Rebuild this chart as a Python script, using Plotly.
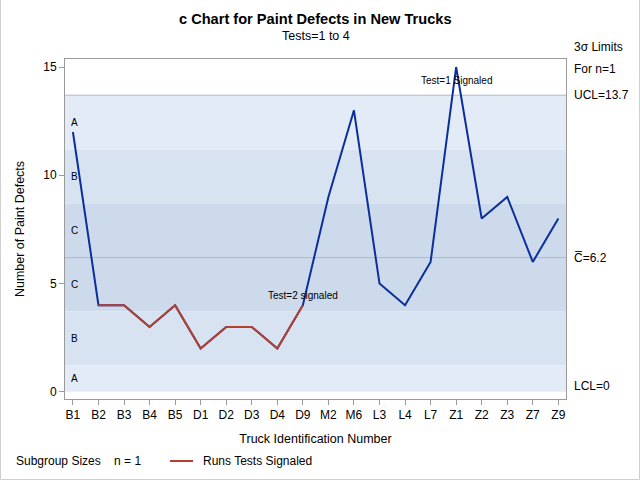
import plotly.graph_objects as go

categories = ["B1","B2","B3","B4","B5","D1","D2","D3","D4","D9",
              "M2","M6","L3","L4","L7","Z1","Z2","Z3","Z7","Z9"]
defects = [12,4,4,3,4,2,3,3,2,4,9,13,5,4,6,15,8,9,6,8]
signaled_idx = list(range(1, 10))  # B2..D9 runs test signaled
ucl = 13.7
center = 6.2
lcl = 0
sigma = center ** 0.5
zone_labels = ["A", "B", "C", "C", "B", "A"]

FONT = "Liberation Sans, Arial, sans-serif"
BLUE = "#0B2F9A"
RED = "#B5402F"
GRAY = "#9A9A9A"

x = list(range(len(categories)))
fig = go.Figure()

fig.add_trace(go.Scatter(x=x, y=defects, mode="lines",
                         line=dict(color=BLUE, width=2), showlegend=False, hoverinfo="skip"))
fig.add_trace(go.Scatter(x=[x[i] for i in signaled_idx], y=[defects[i] for i in signaled_idx],
                         mode="lines", line=dict(color=RED, width=2), showlegend=False, hoverinfo="skip"))

# zone bands
b1 = center + sigma; b2 = center + 2 * sigma
d1 = center - sigma; d2 = max(center - 2 * sigma, lcl)
bands = [(b2, ucl, "#E3EBF6"), (b1, b2, "#D8E3F1"), (center, b1, "#CCDAEC"),
         (d1, center, "#CCDAEC"), (d2, d1, "#D8E3F1"), (lcl, d2, "#E3EBF6")]
shapes = []
for y0, y1, c in bands:
    shapes.append(dict(type="rect", xref="paper", yref="y", x0=0, x1=1, y0=y0, y1=y1,
                       fillcolor=c, line=dict(width=0), layer="below"))
for yv in (ucl, center):
    shapes.append(dict(type="line", xref="paper", yref="y", x0=0, x1=1, y0=yv, y1=yv,
                       line=dict(color="#AEB8C8", width=1), layer="below"))
# outer border
W, H = 501, 340
shapes.append(dict(type="rect", xref="paper", yref="paper",
                   x0=-64.5 / W, x1=(639.5 - 65) / W, y0=-80.5 / H, y1=(479.5 - 59) / H,
                   line=dict(color="#CFCFCF", width=1), fillcolor="rgba(0,0,0,0)"))
# legend line
shapes.append(dict(type="line", xref="paper", yref="paper",
                   x0=(170 - 65) / W, x1=(193 - 65) / W, y0=(399 - 461) / H, y1=(399 - 461) / H,
                   line=dict(color=RED, width=2)))
fig.update_layout(shapes=shapes)

ann = []
# zone letters
mids = [(b2 + ucl) / 2, (b1 + b2) / 2, (center + b1) / 2, (d1 + center) / 2, (d2 + d1) / 2, (lcl + d2) / 2]
for lab, m in zip(zone_labels, mids):
    ann.append(dict(xref="paper", yref="y", x=(69 - 65) / W, y=m, text=lab, showarrow=False,
                    xanchor="left", yanchor="middle", font=dict(size=10, color="black", family=FONT)))
# right labels
rx = (572 - 65) / W
ann.append(dict(xref="paper", yref="paper", x=rx, y=(399 - 47) / H, text="3σ Limits", showarrow=False,
                xanchor="left", yanchor="middle", font=dict(size=12, family=FONT, color="black")))
ann.append(dict(xref="paper", yref="paper", x=rx, y=(399 - 69) / H, text="For n=1", showarrow=False,
                xanchor="left", yanchor="middle", font=dict(size=12, family=FONT, color="black")))
ann.append(dict(xref="paper", yref="y", x=rx, y=ucl, text=f"UCL={ucl}", showarrow=False,
                xanchor="left", yanchor="middle", font=dict(size=12, family=FONT, color="black")))
ann.append(dict(xref="paper", yref="y", x=rx, y=center, text=f"C\u0305={center}", showarrow=False,
                xanchor="left", yanchor="middle", font=dict(size=12, family=FONT, color="black")))
ann.append(dict(xref="paper", yref="y", x=rx, y=lcl, text=f"LCL={lcl}", showarrow=False, yshift=6,
                xanchor="left", yanchor="middle", font=dict(size=12, family=FONT, color="black")))
# test annotations
ann.append(dict(xref="x", yref="y", x=15, y=15, text="Test=1 Signaled", showarrow=False, yshift=-13,
                xanchor="center", yanchor="middle", font=dict(size=10, family=FONT, color="black")))
ann.append(dict(xref="x", yref="y", x=9, y=4, text="Test=2 signaled", showarrow=False, yshift=10,
                xanchor="center", yanchor="middle", font=dict(size=10, family=FONT, color="black")))
# titles
ann.append(dict(xref="paper", yref="paper", x=0.5, y=(399 - 19) / H, text="<b>c Chart for Paint Defects in New Trucks</b>",
                showarrow=False, xanchor="center", yanchor="middle", font=dict(size=14.6, family=FONT, color="black")))
ann.append(dict(xref="paper", yref="paper", x=0.5, y=(399 - 36) / H, text="Tests=1 to 4",
                showarrow=False, xanchor="center", yanchor="middle", font=dict(size=12.5, family=FONT, color="black")))
# legend text
ann.append(dict(xref="paper", yref="paper", x=(14 - 65) / W, y=(399 - 461) / H, text="Subgroup Sizes    n = 1",
                showarrow=False, xanchor="left", yanchor="middle", font=dict(size=12, family=FONT, color="black")))
ann.append(dict(xref="paper", yref="paper", x=(201 - 65) / W, y=(399 - 461) / H, text="Runs Tests Signaled",
                showarrow=False, xanchor="left", yanchor="middle", font=dict(size=12, family=FONT, color="black")))
fig.update_layout(annotations=ann)

fig.update_layout(
    width=640, height=480,
    margin=dict(l=65, r=74, t=59, b=81),
    paper_bgcolor="white", plot_bgcolor="white",
    font=dict(family=FONT, size=12, color="black"),
    xaxis=dict(range=[-0.31, 19.3], tickvals=x, ticktext=categories, showgrid=False, zeroline=False,
               showline=True, linecolor=GRAY, mirror=True, ticks="outside", ticklen=5, tickcolor=GRAY,
               title=dict(text="Truck Identification Number", font=dict(size=12.5), standoff=12),
               tickfont=dict(size=12)),
    yaxis=dict(range=[-0.33, 15.37], tickvals=[0, 5, 10, 15], showgrid=False, zeroline=False,
               showline=True, linecolor=GRAY, mirror=True, ticks="outside", ticklen=5, tickcolor=GRAY,
               title=dict(text="Number of Paint Defects", font=dict(size=12.5), standoff=15),
               tickfont=dict(size=12)),
)

fig.write_html("out.html")
